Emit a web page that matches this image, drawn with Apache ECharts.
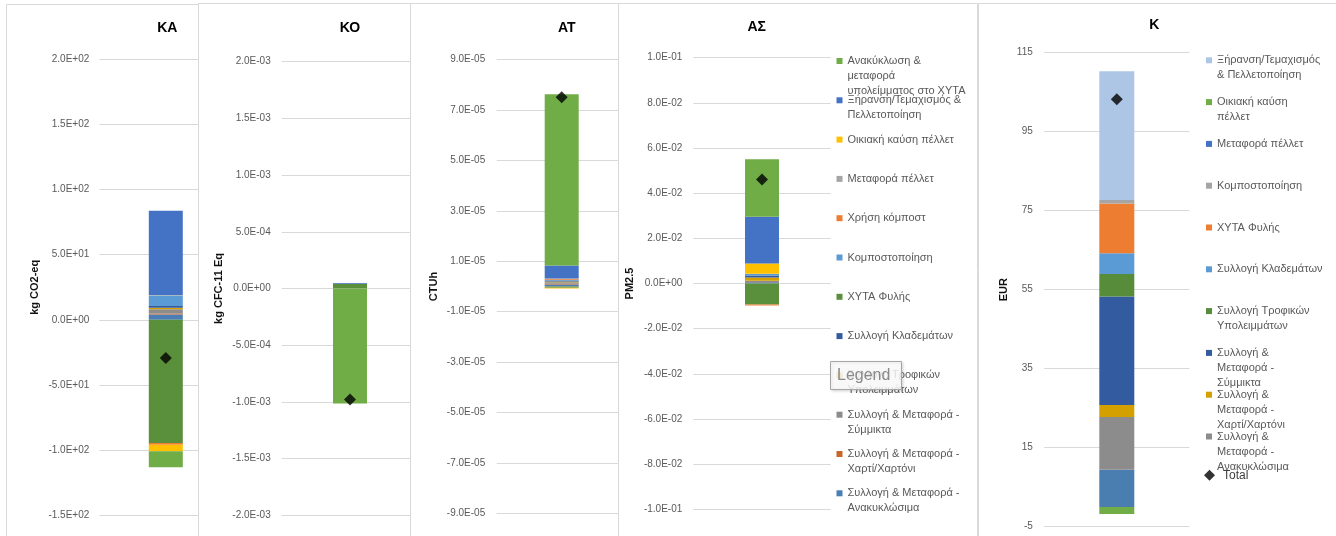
<!DOCTYPE html>
<html>
<head>
<meta charset="utf-8">
<script src="https://cdn.jsdelivr.net/npm/echarts@6/dist/echarts.min.js"></script>
<style>
  html, body { margin: 0; padding: 0; background: #ffffff; }
  #chart { width: 1336px; height: 536px; }
</style>
</head>
<body>
<div id="chart"></div>
<script>
// ---- Data -------------------------------------------------------------
// Life-cycle stages, in stacking order (first = bottom of the column).
const stageNames = [
  'Συλλογή & Μεταφορά - Ανακυκλώσιμα',
  'Συλλογή & Μεταφορά - Χαρτί/Χαρτόνι',
  'Συλλογή & Μεταφορά - Σύμμικτα',
  'Συλλογή Τροφικών Υπολειμμάτων',
  'Συλλογή Κλαδεμάτων',
  'ΧΥΤΑ Φυλής',
  'Κομποστοποίηση',
  'Χρήση κόμποστ',
  'Μεταφορά πέλλετ',
  'Οικιακή καύση πέλλετ',
  'Ξήρανση/Τεμαχισμός & Πελλετοποίηση',
  'Ανακύκλωση & μεταφορά υπολείμματος στο ΧΥΤΑ'
];

// Impact per stage for each category (same order as stageNames)
const valuesKA = [4.1, 0.8, 3.2, 1.2, 1.3, -94.6, 8.2, -1.3, 0.3, -4.9, 64.6, -12.3];
const valuesKO = [1e-6, 0, 1e-6, 0, 1e-6, 3.8e-5, 1e-6, 0, 0, 0, 7e-6, -1.014e-3];
const valuesAT = [0.8e-6, 0.3e-6, 0.6e-6, 0.3e-6, 0.4e-6, -0.5e-6, 0.3e-6, 0.3e-6, 0.2e-6, -0.3e-6, 5.1e-6, 6.79e-5];
const valuesAS = [0.0006, 0.0001, 0.0005, 0.0015, 0.0008, -0.0093, 0.0007, -0.0004, 0.0001, 0.0046, 0.0207, 0.0254];

// Cost breakdown (EUR), stacking order
const costNames = [
  'Λοιπά',
  'Συλλογή & Μεταφορά - Ανακυκλώσιμα',
  'Συλλογή & Μεταφορά - Χαρτί/Χαρτόνι',
  'Συλλογή & Μεταφορά - Σύμμικτα',
  'Συλλογή Τροφικών Υπολειμμάτων',
  'Συλλογή Κλαδεμάτων',
  'ΧΥΤΑ Φυλής',
  'Κομποστοποίηση',
  'Μεταφορά πέλλετ',
  'Οικιακή καύση πέλλετ',
  'Ξήρανση/Τεμαχισμός & Πελλετοποίηση'
];
const valuesK = [9.4, 13.4, 3.0, 27.5, 5.7, 5.2, 12.6, 0.9, 0, -1.8, 32.6];

// Totals (diamond markers), one per panel
const totalValues = [-29.3, -9.78e-4, 7.5e-5, 0.0461, 103.2];

const panelTitles = ['ΚΑ', 'ΚΟ', 'ΑΤ', 'ΑΣ', 'Κ'];
const axisUnits = ['kg CO2-eq', 'kg CFC-11 Eq', 'CTUh', 'PM2.5', 'EUR'];
const axisMin = [-150, -2e-3, -9e-5, -0.1, -5];
const axisMax = [200, 2e-3, 9e-5, 0.1, 115];
const axisStep = [50, 5e-4, 2e-5, 0.02, 20];

// Legend text (wrapped as displayed), legend order
const legendLinesAS = [
  ['Ανακύκλωση &', 'μεταφορά', 'υπολείμματος στο ΧΥΤΑ'],
  ['Ξήρανση/Τεμαχισμός &', 'Πελλετοποίηση'],
  ['Οικιακή καύση πέλλετ'],
  ['Μεταφορά πέλλετ'],
  ['Χρήση κόμποστ'],
  ['Κομποστοποίηση'],
  ['ΧΥΤΑ Φυλής'],
  ['Συλλογή Κλαδεμάτων'],
  ['Συλλογή Τροφικών', 'Υπολειμμάτων'],
  ['Συλλογή & Μεταφορά -', 'Σύμμικτα'],
  ['Συλλογή & Μεταφορά -', 'Χαρτί/Χαρτόνι'],
  ['Συλλογή & Μεταφορά -', 'Ανακυκλώσιμα']
];
const legendLinesK = [
  ['Ξήρανση/Τεμαχισμός', '& Πελλετοποίηση'],
  ['Οικιακή καύση', 'πέλλετ'],
  ['Μεταφορά πέλλετ'],
  ['Κομποστοποίηση'],
  ['ΧΥΤΑ Φυλής'],
  ['Συλλογή Κλαδεμάτων'],
  ['Συλλογή Τροφικών', 'Υπολειμμάτων'],
  ['Συλλογή &', 'Μεταφορά -', 'Σύμμικτα'],
  ['Συλλογή &', 'Μεταφορά -', 'Χαρτί/Χαρτόνι'],
  ['Συλλογή &', 'Μεταφορά -', 'Ανακυκλώσιμα']
];

// ---- Styling ----------------------------------------------------------
const stageColors = [
  '#4A7EB4', '#C8662A', '#8C8C8C', '#D4A000', '#335BA0', '#5A8F3C',
  '#5B9BD5', '#ED7D31', '#A5A5A5', '#FFC000', '#4472C4', '#70AD47'
];
const costColors = [
  '#4A7EB0', '#8C8C8C', '#D4A000', '#335BA0', '#568C3A', '#5B9BD5',
  '#ED7D31', '#A5A5A5', '#4472C4', '#70AD47', '#ADC6E6'
];

const FONT = "'Liberation Sans', Arial, sans-serif";

const layout = [
  { left: 99.3,  width: 133,   top: 59.3, height: 456,   barWidth: 34, titleX: 167.3,  titleTop: 21.3, nameGap: 59, margin: 10,   frame: [6.5, 4.5, 192, 700] },
  { left: 281.7, width: 136.6, top: 61.7, height: 453.6, barWidth: 34, titleX: 350,    titleTop: 21,   nameGap: 57, margin: 11,   frame: [198.5, 3.5, 212, 700] },
  { left: 496.7, width: 130,   top: 59.3, height: 454.4, barWidth: 34, titleX: 566.7,  titleTop: 21,   nameGap: 57, margin: 11.5, frame: [410.5, 3.5, 208, 700] },
  { left: 693.3, width: 137.4, top: 57.7, height: 451.6, barWidth: 34, titleX: 756.7,  titleTop: 19.7, nameGap: 58, margin: 11,   frame: [618.5, 3.5, 359, 700] },
  { left: 1044.3, width: 145,  top: 52.7, height: 474,   barWidth: 35, titleX: 1154.3, titleTop: 18,   nameGap: 35, margin: 11.5, frame: [978.5, 3.5, 420, 700] }
];

// Scientific tick labels such as 2.0E+02 / -5.0E-04
function sci(v) {
  if (Math.abs(v) < 1e-12) return '0.0E+00';
  const parts = v.toExponential(1).split('e');
  const e = parseInt(parts[1], 10);
  return parts[0] + 'E' + (e < 0 ? '-' : '+') + String(Math.abs(e)).padStart(2, '0');
}
const plain = v => String(Math.round(v));

const panelData = [
  { names: stageNames, colors: stageColors, values: valuesKA, fmt: sci },
  { names: stageNames, colors: stageColors, values: valuesKO, fmt: sci },
  { names: stageNames, colors: stageColors, values: valuesAT, fmt: sci },
  { names: stageNames, colors: stageColors, values: valuesAS, fmt: sci },
  { names: costNames,  colors: costColors,  values: valuesK,  fmt: plain }
];

// ---- Option -----------------------------------------------------------
const grids = [], xAxes = [], yAxes = [], series = [], titles = [], graphics = [];

panelData.forEach((p, i) => {
  const L = layout[i];
  const zb = 10 * (i + 1);

  graphics.push({
    type: 'rect', z: zb,
    shape: { x: L.frame[0], y: L.frame[1], width: L.frame[2], height: L.frame[3] },
    style: { fill: '#ffffff', stroke: '#d9d9d9', lineWidth: 1 }
  });

  grids.push({ left: L.left, top: L.top, width: L.width, height: L.height, containLabel: false });

  xAxes.push({
    type: 'category', gridIndex: i, data: [''], z: zb + 1,
    axisLine: { show: false }, axisTick: { show: false }, axisLabel: { show: false },
    splitLine: { show: false }
  });

  yAxes.push({
    type: 'value', gridIndex: i, z: zb + 1,
    min: axisMin[i], max: axisMax[i], interval: axisStep[i],
    axisLine: { show: false }, axisTick: { show: false },
    splitLine: { show: true, lineStyle: { color: '#d9d9d9', width: 1 } },
    axisLabel: { formatter: p.fmt, color: '#595959', fontSize: 10, fontFamily: FONT, margin: L.margin },
    name: axisUnits[i], nameLocation: 'middle', nameRotate: 90, nameGap: L.nameGap,
    nameTextStyle: { fontWeight: 'bold', fontSize: 11, color: '#111111', fontFamily: FONT }
  });

  p.names.forEach((name, s) => {
    series.push({
      type: 'bar', name: name, stack: 'panel' + i,
      xAxisIndex: i, yAxisIndex: i, z: zb + 2,
      barWidth: L.barWidth,
      itemStyle: { color: p.colors[s] },
      data: [p.values[s]],
      animation: false, silent: true
    });
  });

  series.push({
    type: 'scatter', name: 'Total', xAxisIndex: i, yAxisIndex: i, z: zb + 3,
    symbol: 'diamond', symbolSize: 12,
    itemStyle: { color: '#000000' },
    data: [totalValues[i]], animation: false, silent: true
  });

  titles.push({
    text: panelTitles[i], left: L.titleX, top: L.titleTop, textAlign: 'center', padding: 0, z: zb + 4,
    textStyle: { fontSize: 14, fontWeight: 'bold', color: '#000000', fontFamily: FONT }
  });
});

// Legends: one component per entry so each entry sits at its own row
const legends = [];
function addLegendEntry(name, color, lines, x, yc, z, extra) {
  const lh = 15;
  const n = lines.length;
  const text = '\n'.repeat(n - 1) + lines.join('\n');
  legends.push(Object.assign({
    show: true, orient: 'vertical', left: x, top: yc - (2 * n - 1) * lh / 2,
    padding: 0, itemWidth: 6, itemHeight: 6, selectedMode: false, z: z,
    icon: 'rect',
    data: [{ name: name, itemStyle: { color: color } }],
    formatter: () => text,
    textStyle: { fontSize: 11, color: '#595959', lineHeight: lh, fontFamily: FONT }
  }, extra || {}));
}

// ΑΣ panel legend (reverse of stacking order)
const legendOrderAS = stageNames.slice().reverse();
legendOrderAS.forEach((name, k) => {
  const s = stageNames.indexOf(name);
  addLegendEntry(name, stageColors[s], legendLinesAS[k], 836.5, 61 + k * 39.3, 44);
});

// Κ panel legend (reverse stacking order, without the unlisted bottom block)
const legendOrderK = costNames.slice(1).reverse();
legendOrderK.forEach((name, k) => {
  const s = costNames.indexOf(name);
  addLegendEntry(name, costColors[s], legendLinesK[k], 1206, 60.3 + k * 41.8, 54);
});
legends.push({
  show: true, orient: 'vertical', left: 1204, top: 475.3 - 7.5, padding: 0,
  itemWidth: 11, itemHeight: 11, selectedMode: false, z: 54,
  data: [{ name: 'Total', icon: 'diamond', itemStyle: { color: '#000000' } }],
  textStyle: { fontSize: 12, color: '#404040', lineHeight: 15, fontFamily: FONT, padding: [0, 0, 0, 3] }
});

// Hover caption box over the ΑΣ legend
graphics.push({
  type: 'group', z: 200,
  children: [
    { type: 'rect', z: 200,
      shape: { x: 830.5, y: 361.5, width: 71, height: 28 },
      style: { fill: 'rgba(255,255,255,0.82)', stroke: '#a6a6a6', lineWidth: 1,
               shadowBlur: 3, shadowColor: 'rgba(0,0,0,0.18)', shadowOffsetX: 1, shadowOffsetY: 1 } },
    { type: 'text', z: 201,
      style: { x: 837, y: 376, text: 'Legend', fill: '#8a8a8a', font: '16px ' + FONT, verticalAlign: 'middle' } }
  ]
});

const option = {
  backgroundColor: '#ffffff',
  animation: false,
  title: titles,
  grid: grids,
  xAxis: xAxes,
  yAxis: yAxes,
  legend: legends,
  series: series,
  graphic: graphics
};

const chart = echarts.init(document.getElementById('chart'), null, { renderer: 'canvas' });
chart.setOption(option);
</script>
</body>
</html>
